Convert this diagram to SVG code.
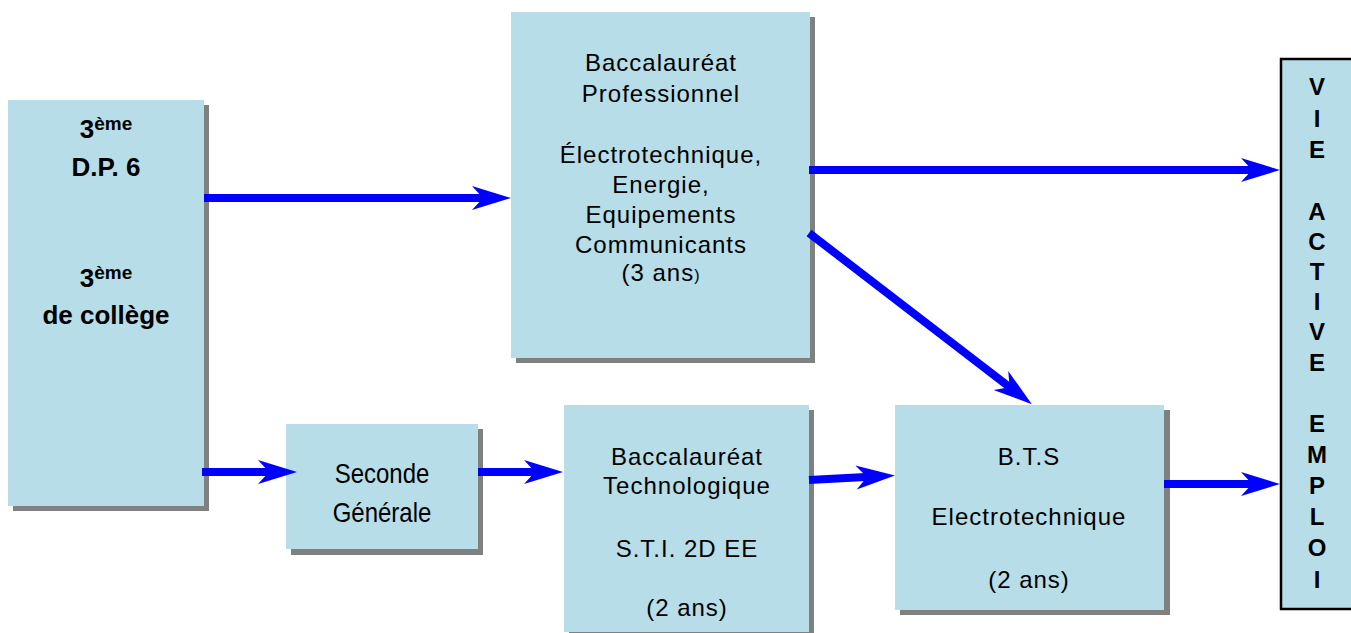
<svg xmlns="http://www.w3.org/2000/svg" width="1351" height="633" viewBox="0 0 1351 633">
<style>
.box{fill:#B7DDE8}
.sh{fill:#808080}
.t{font-family:"Liberation Sans",Arial,sans-serif;font-size:24px;fill:#000;text-anchor:middle}
.ls{letter-spacing:1px}
.b{font-family:"Liberation Sans",Arial,sans-serif;font-weight:bold;font-size:26px;fill:#000;text-anchor:middle}
.v{font-family:"Liberation Sans",Arial,sans-serif;font-weight:bold;font-size:24px;fill:#000;text-anchor:middle}
.c{stroke:#0000FF;stroke-width:8;fill:none;marker-end:url(#ah)}
</style>
<defs>
<marker id="ah" markerUnits="userSpaceOnUse" orient="auto" refX="0" refY="0" markerWidth="60" markerHeight="40" overflow="visible">
<path d="M20,0 L-19,-12 L-8,0 L-19,12 Z" fill="#0000FF"/>
</marker>
</defs>
<rect width="1351" height="633" fill="#fff"/>
<g id="node-3eme">
<rect class="sh" x="13" y="105" width="196" height="406"/>
<rect class="box" x="8" y="100" width="196" height="406"/>
<text class="b" x="106" y="138">3<tspan font-size="19" dy="-8">ème</tspan></text>
<text class="b" x="106" y="176">D.P. 6</text>
<text class="b" x="106" y="287">3<tspan font-size="19" dy="-8">ème</tspan></text>
<text class="b" x="106" y="324">de collège</text>
</g>
<g id="node-bacpro">
<rect class="sh" x="516" y="17" width="299" height="346"/>
<rect class="box" x="511" y="12" width="299" height="346"/>
<text class="t ls" x="661" y="71">Baccalauréat</text>
<text class="t ls" x="661" y="102">Professionnel</text>
<text class="t ls" x="661" y="163">Électrotechnique,</text>
<text class="t ls" x="661" y="193">Energie,</text>
<text class="t ls" x="661" y="223">Equipements</text>
<text class="t ls" x="661" y="253">Communicants</text>
<text class="t ls" x="661" y="281">(3 ans<tspan font-size="16">)</tspan></text>
</g>
<g id="node-seconde">
<rect class="sh" x="291" y="429" width="192" height="126"/>
<rect class="box" x="286" y="424" width="192" height="125"/>
<text class="t" transform="translate(382,483) scale(1,1.12)">Seconde</text>
<text class="t" transform="translate(382,522) scale(1,1.12)">Générale</text>
</g>
<g id="node-bactechno">
<rect class="sh" x="569" y="410" width="245" height="228"/>
<rect class="box" x="564" y="405" width="245" height="227"/>
<text class="t ls" x="687" y="465">Baccalauréat</text>
<text class="t ls" x="687" y="494">Technologique</text>
<text class="t ls" x="687" y="557">S.T.I. 2D EE</text>
<text class="t ls" x="687" y="616">(2 ans)</text>
</g>
<g id="node-bts">
<rect class="sh" x="900" y="410" width="270" height="205"/>
<rect class="box" x="895" y="405" width="269" height="205"/>
<text class="t ls" x="1029" y="465">B.T.S</text>
<text class="t ls" x="1029" y="525">Electrotechnique</text>
<text class="t ls" x="1029" y="588">(2 ans)</text>
</g>
<g id="node-vie">
<rect class="box" x="1281" y="59" width="80" height="550" stroke="#000" stroke-width="2.5"/>
<text class="v" x="1317" y="95">V</text>
<text class="v" x="1317" y="127">I</text>
<text class="v" x="1317" y="158">E</text>
<text class="v" x="1317" y="220">A</text>
<text class="v" x="1317" y="250">C</text>
<text class="v" x="1317" y="280">T</text>
<text class="v" x="1317" y="310">I</text>
<text class="v" x="1317" y="340">V</text>
<text class="v" x="1317" y="371">E</text>
<text class="v" x="1317" y="432">E</text>
<text class="v" x="1317" y="463">M</text>
<text class="v" x="1317" y="494">P</text>
<text class="v" x="1317" y="525">L</text>
<text class="v" x="1317" y="556">O</text>
<text class="v" x="1317" y="588">I</text>
</g>
<g id="connectors">
<path class="c" d="M204,198 L491,198"/>
<path class="c" d="M809,170 L1260,170"/>
<path class="c" d="M809,233 L1016,392"/>
<path class="c" d="M202,472 L277,472"/>
<path class="c" d="M478,472 L543,472"/>
<path class="c" d="M809,480 L875,476.5"/>
<path class="c" d="M1164,484 L1260,484"/>
</g>
</svg>
